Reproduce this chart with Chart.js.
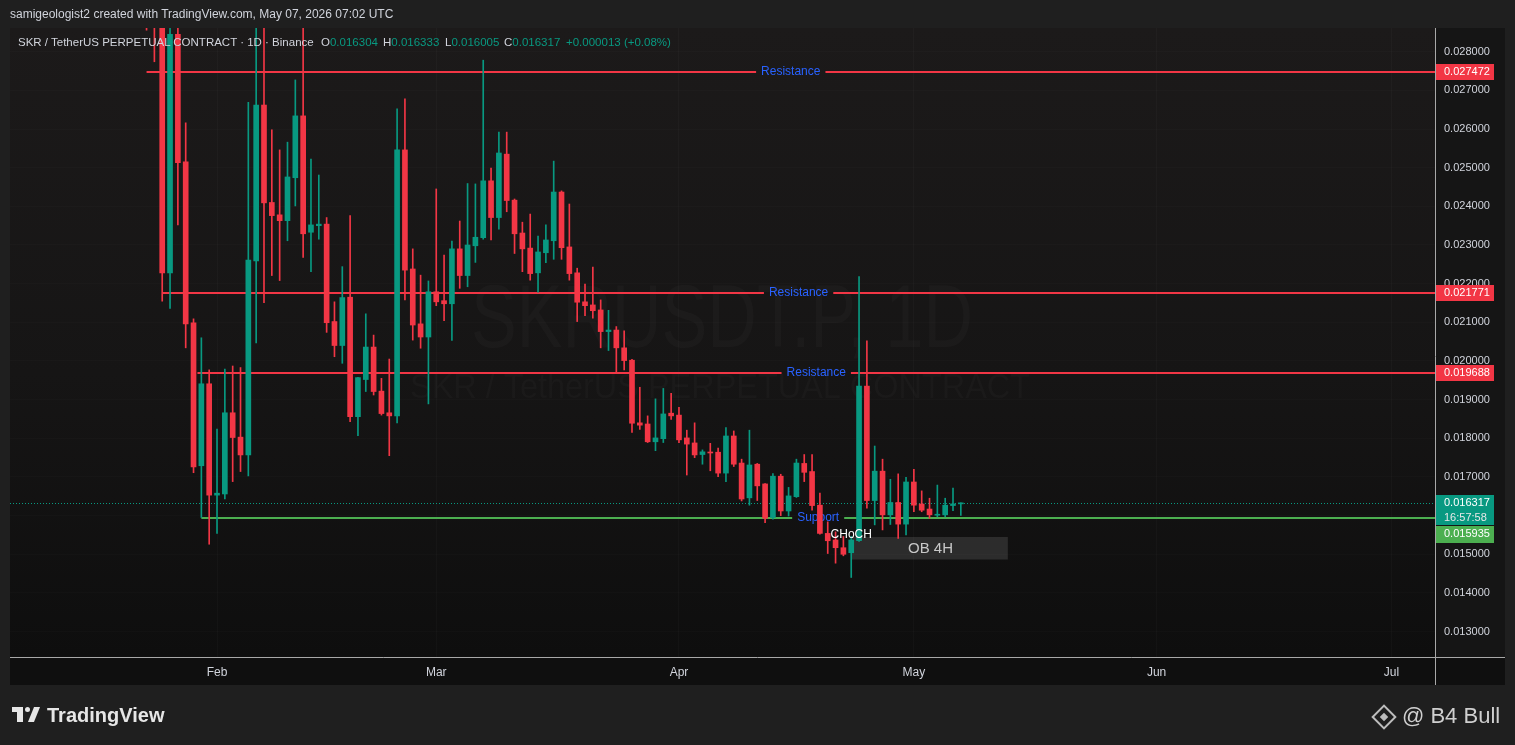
<!DOCTYPE html>
<html lang="es">
<head>
<meta charset="utf-8">
<title>SKR / TetherUS 1D</title>
<script src="https://cdn.jsdelivr.net/npm/chart.js@4.4.1/dist/chart.umd.min.js"></script>
<style>
  body { margin: 0; width: 1515px; height: 745px; overflow: hidden; position: relative; background: #1f1f1f; font-family: "Liberation Sans", Arial, sans-serif; }
  #grafica { position: absolute; left: 0; top: 0; }
  .texto { position: absolute; white-space: nowrap; }
  .gris { color: #d1d4dc; }
  .verde { color: #089981; }
  .pieza { position: absolute; background: #e6e6e6; }
</style>
</head>
<body>
<canvas id="grafica" width="1515" height="745"></canvas>

<div class="texto gris" style="left:10px; top:7px; font-size:12px; line-height:15px;">samigeologist2 created with TradingView.com, May 07, 2026 07:02 UTC</div>

<div class="texto gris" style="left:18px; top:35px; font-size:11.5px; line-height:14px;">SKR / TetherUS PERPETUAL CONTRACT · 1D · Binance</div>
<div class="texto" style="left:321px; top:35px; font-size:11.5px; line-height:14px;"><span class="gris">O</span><span class="verde" id="valorO"></span></div>
<div class="texto" style="left:383px; top:35px; font-size:11.5px; line-height:14px;"><span class="gris">H</span><span class="verde" id="valorH"></span></div>
<div class="texto" style="left:445px; top:35px; font-size:11.5px; line-height:14px;"><span class="gris">L</span><span class="verde" id="valorL"></span></div>
<div class="texto" style="left:504px; top:35px; font-size:11.5px; line-height:14px;"><span class="gris">C</span><span class="verde" id="valorC"></span></div>
<div class="texto verde" id="cambio" style="left:566px; top:35px; font-size:11.5px; line-height:14px;"></div>

<!-- logo de TradingView -->
<div class="pieza" style="left:12px; top:707px; width:11px; height:5px;"></div>
<div class="pieza" style="left:17px; top:707px; width:6px; height:15px;"></div>
<div class="pieza" style="left:25px; top:707px; width:5px; height:5px; border-radius:50%;"></div>
<div class="pieza" style="left:31px; top:707px; width:6px; height:15px; transform:skewX(-22deg);"></div>
<div class="texto" style="left:47px; top:703px; font-size:20px; line-height:24px; font-weight:bold; color:#e6e6e6;">TradingView</div>

<!-- marca de agua del autor -->
<div style="position:absolute; left:1375px; top:708px; width:14px; height:14px; border:2px solid #bdbdbd; transform:rotate(45deg);"></div>
<div style="position:absolute; left:1381px; top:714px; width:6px; height:6px; background:#bdbdbd; transform:rotate(45deg);"></div>
<div class="texto" style="left:1402px; top:703px; font-size:22px; line-height:26px; color:#cfcfcf;">@ B4 Bull</div>

<script>
// Velas diarias SKRUSDT.P (Binance)
const fechas = [
  "2026-01-23","2026-01-24","2026-01-25","2026-01-26","2026-01-27","2026-01-28","2026-01-29","2026-01-30","2026-01-31",
  "2026-02-01","2026-02-02","2026-02-03","2026-02-04","2026-02-05","2026-02-06","2026-02-07","2026-02-08","2026-02-09","2026-02-10",
  "2026-02-11","2026-02-12","2026-02-13","2026-02-14","2026-02-15","2026-02-16","2026-02-17","2026-02-18","2026-02-19","2026-02-20",
  "2026-02-21","2026-02-22","2026-02-23","2026-02-24","2026-02-25","2026-02-26","2026-02-27","2026-02-28",
  "2026-03-01","2026-03-02","2026-03-03","2026-03-04","2026-03-05","2026-03-06","2026-03-07","2026-03-08","2026-03-09","2026-03-10",
  "2026-03-11","2026-03-12","2026-03-13","2026-03-14","2026-03-15","2026-03-16","2026-03-17","2026-03-18","2026-03-19","2026-03-20",
  "2026-03-21","2026-03-22","2026-03-23","2026-03-24","2026-03-25","2026-03-26","2026-03-27","2026-03-28","2026-03-29","2026-03-30","2026-03-31",
  "2026-04-01","2026-04-02","2026-04-03","2026-04-04","2026-04-05","2026-04-06","2026-04-07","2026-04-08","2026-04-09","2026-04-10",
  "2026-04-11","2026-04-12","2026-04-13","2026-04-14","2026-04-15","2026-04-16","2026-04-17","2026-04-18","2026-04-19","2026-04-20",
  "2026-04-21","2026-04-22","2026-04-23","2026-04-24","2026-04-25","2026-04-26","2026-04-27","2026-04-28","2026-04-29","2026-04-30",
  "2026-05-01","2026-05-02","2026-05-03","2026-05-04","2026-05-05","2026-05-06","2026-05-07"
];

const aperturas = [
  0.0335, 0.0301, 0.0294, 0.02228, 0.02845, 0.02515, 0.02099, 0.01729, 0.01941,
  0.01653, 0.01656, 0.01866, 0.01803, 0.01757, 0.02259, 0.02662, 0.02410, 0.02378, 0.02363,
  0.02474, 0.02634, 0.02333, 0.02350, 0.02354, 0.02102, 0.02040, 0.02165, 0.01856, 0.01952,
  0.02036, 0.01922, 0.01866, 0.01858, 0.02546, 0.02238, 0.02096, 0.02062,
  0.02179, 0.02156, 0.02148, 0.02290, 0.02221, 0.02298, 0.02319, 0.02466, 0.02371, 0.02535,
  0.02416, 0.02331, 0.02292, 0.02228, 0.02280, 0.02311, 0.02437, 0.02295, 0.02228, 0.02153,
  0.02145, 0.02132, 0.02076, 0.02080, 0.02034, 0.02002, 0.01840, 0.01837, 0.01791, 0.01799, 0.01865,
  0.01860, 0.01801, 0.01788, 0.01758, 0.01764, 0.01764, 0.01710, 0.01806, 0.01736, 0.01646,
  0.01733, 0.01682, 0.01595, 0.01702, 0.01612, 0.01649, 0.01735, 0.01714, 0.01627, 0.01554,
  0.01537, 0.01517, 0.01504, 0.01535, 0.01935, 0.01639, 0.01715, 0.01602, 0.01634, 0.01578,
  0.01687, 0.01630, 0.01617, 0.01601, 0.01602, 0.01626, 0.016304
];

const maximos = [
  0.0352, 0.0318, 0.0301, 0.0296, 0.0289, 0.02616, 0.02109, 0.02060, 0.01977,
  0.01824, 0.01979, 0.01987, 0.01983, 0.02669, 0.02870, 0.02870, 0.02598, 0.02546, 0.02566,
  0.02727, 0.02870, 0.02522, 0.02481, 0.02371, 0.02153, 0.02244, 0.02376, 0.01958, 0.02122,
  0.02067, 0.01955, 0.02005, 0.02652, 0.02678, 0.02290, 0.02222, 0.02207,
  0.02445, 0.02274, 0.02310, 0.02362, 0.02459, 0.02458, 0.02778, 0.02499, 0.02592, 0.02592,
  0.02419, 0.02359, 0.02380, 0.02323, 0.02352, 0.02517, 0.02440, 0.02406, 0.02240, 0.02199,
  0.02243, 0.02158, 0.02131, 0.02089, 0.02078, 0.02004, 0.01932, 0.01858, 0.01902, 0.01929, 0.01916,
  0.01880, 0.01821, 0.01840, 0.01770, 0.01787, 0.01775, 0.01828, 0.01819, 0.01746, 0.01821,
  0.01735, 0.01683, 0.01709, 0.01707, 0.01673, 0.01746, 0.01758, 0.01758, 0.01658, 0.01584,
  0.01558, 0.01546, 0.01546, 0.02218, 0.02052, 0.01780, 0.01746, 0.01694, 0.01708, 0.01699,
  0.01720, 0.01664, 0.01645, 0.01679, 0.01645, 0.01671, 0.016333
];

const minimos = [
  0.02856, 0.02774, 0.02155, 0.02136, 0.02352, 0.02034, 0.01711, 0.01595, 0.01526,
  0.01554, 0.01643, 0.01688, 0.01714, 0.01703, 0.02047, 0.02151, 0.02221, 0.02208, 0.02311,
  0.02401, 0.02268, 0.02231, 0.02315, 0.02074, 0.02011, 0.01994, 0.01843, 0.01807, 0.01921,
  0.01912, 0.01860, 0.01755, 0.01840, 0.02158, 0.02054, 0.02033, 0.01889,
  0.02143, 0.02104, 0.02053, 0.02188, 0.02192, 0.02255, 0.02315, 0.02313, 0.02341, 0.02386,
  0.02278, 0.02231, 0.02209, 0.02178, 0.02254, 0.02263, 0.02263, 0.02209, 0.02102, 0.02117,
  0.02111, 0.02034, 0.02027, 0.01971, 0.01977, 0.01815, 0.01823, 0.01789, 0.01768, 0.01789, 0.01849,
  0.01789, 0.01705, 0.01750, 0.01733, 0.01716, 0.01701, 0.01688, 0.01727, 0.01638, 0.01627,
  0.01639, 0.01582, 0.01591, 0.01600, 0.01599, 0.01647, 0.01688, 0.01614, 0.01552, 0.01502,
  0.01477, 0.01496, 0.01440, 0.01533, 0.01619, 0.01576, 0.01563, 0.01577, 0.01541, 0.01550,
  0.01610, 0.01610, 0.01593, 0.01597, 0.01597, 0.01613, 0.016005
];

const cierres = [
  0.0301, 0.0294, 0.02228, 0.02845, 0.02513, 0.02096, 0.01726, 0.01941, 0.01653,
  0.01658, 0.01866, 0.01802, 0.01757, 0.02261, 0.02662, 0.02409, 0.02376, 0.02363, 0.02476,
  0.02634, 0.02329, 0.02352, 0.02354, 0.02099, 0.02040, 0.02164, 0.01856, 0.01957, 0.02036,
  0.01921, 0.01864, 0.01858, 0.02546, 0.02235, 0.02093, 0.02062, 0.02179,
  0.02153, 0.02148, 0.02290, 0.02221, 0.02300, 0.02320, 0.02466, 0.02371, 0.02538, 0.02415,
  0.02329, 0.02290, 0.02226, 0.02282, 0.02313, 0.02437, 0.02293, 0.02226, 0.02152, 0.02143,
  0.02130, 0.02076, 0.02080, 0.02034, 0.02001, 0.01839, 0.01834, 0.01791, 0.01801, 0.01863, 0.01858,
  0.01796, 0.01785, 0.01757, 0.01765, 0.01762, 0.01710, 0.01806, 0.01733, 0.01643, 0.01731,
  0.01677, 0.01593, 0.01702, 0.01612, 0.01651, 0.01736, 0.01712, 0.01626, 0.01554, 0.01535,
  0.01517, 0.01500, 0.01537, 0.01935, 0.01639, 0.01715, 0.01602, 0.01634, 0.01578, 0.01687,
  0.01627, 0.01614, 0.01602, 0.01603, 0.01627, 0.016304, 0.016317
];

// Ejes
const rangoFechas = ["2026-01-05T13:26:00Z", "2026-07-06T13:26:00Z"];
const rangoPrecios = [0.012343, 0.028613];
const mesesTicks = ["2026-02-01", "2026-03-01", "2026-04-01", "2026-05-01", "2026-06-01", "2026-07-01"];
const mesesEtiquetas = ["Feb", "Mar", "Apr", "May", "Jun", "Jul"];
const preciosTicks = [0.013, 0.014, 0.015, 0.016, 0.017, 0.018, 0.019, 0.020, 0.021, 0.022, 0.023, 0.024, 0.025, 0.026, 0.027, 0.028];

// Niveles dibujados
const niveles = [0.027472, 0.021771, 0.019688, 0.015935];
const nivelesTexto = ["Resistance", "Resistance", "Resistance", "Support"];
const nivelesInicio = ["2026-01-23", "2026-01-25", "2026-01-29T12:00:00Z", "2026-01-30"];
const nivelesSoporte = [false, false, false, true];

const tiempoRestante = "16:57:58";
const choch = { fecha: "2026-04-23", precio: 0.01550, texto: "CHoCH" };
const bloqueOB = { desde: "2026-04-23", hasta: "2026-05-13", arriba: 0.015447, abajo: 0.014865, texto: "OB 4H" };

const verde = "#089981";
const rojo = "#f23645";
const verdeSoporte = "#4caf50";
const azul = "#2962ff";
const fuente = '"Liberation Sans", Arial, sans-serif';

// Día relativo al 1 de febrero
const base = Date.parse("2026-02-01");
const dia = (f) => (Date.parse(f) - base) / 864e5;

const dias = fechas.map(dia);
const colores = fechas.map((f, i) => (cierres[i] >= aperturas[i] ? verde : rojo));

// Leyenda con la última vela
const ultima = fechas.length - 1;
document.querySelector("#valorO").textContent = aperturas[ultima].toFixed(6);
document.querySelector("#valorH").textContent = maximos[ultima].toFixed(6);
document.querySelector("#valorL").textContent = minimos[ultima].toFixed(6);
document.querySelector("#valorC").textContent = cierres[ultima].toFixed(6);
const diferencia = cierres[ultima] - cierres[ultima - 1];
document.querySelector("#cambio").textContent =
  `+${diferencia.toFixed(6)} (+${((diferencia / cierres[ultima - 1]) * 100).toFixed(2)}%)`;

// Fondo, marca de agua y dibujos
const dibujos = {
  id: "dibujos",
  beforeDraw(chart) {
    const { ctx, chartArea: a } = chart;
    ctx.save();
    ctx.fillStyle = "#1f1f1f";
    ctx.fillRect(0, 0, chart.width, chart.height);

    const degradado = ctx.createLinearGradient(0, a.top, 0, a.bottom);
    degradado.addColorStop(0, "#1c1a1a");
    degradado.addColorStop(0.55, "#161515");
    degradado.addColorStop(1, "#0e0e0e");
    ctx.fillStyle = degradado;
    ctx.fillRect(a.left, a.top, a.right - a.left, a.bottom - a.top);

    ctx.fillStyle = "#151515";
    ctx.fillRect(a.right, a.top, 70, a.bottom - a.top);
    ctx.fillStyle = "#0f0f0f";
    ctx.fillRect(a.left, a.bottom, a.right - a.left + 70, 28);

    // marca de agua
    ctx.fillStyle = "rgba(255,255,255,0.022)";
    ctx.textAlign = "center";
    ctx.textBaseline = "alphabetic";
    const lineas = [
      { t: "SKRUSDT.P, 1D", tam: 89, ancho: 502, x: 722, y: 347 },
      { t: "SKR / TetherUS PERPETUAL CONTRACT", tam: 35, ancho: 620, x: 720, y: 398 },
    ];
    lineas.forEach((l) => {
      ctx.font = `${l.tam}px ${fuente}`;
      const w = ctx.measureText(l.t).width;
      ctx.save();
      ctx.translate(l.x, l.y);
      ctx.scale(l.ancho / w, 1);
      ctx.fillText(l.t, 0, 0);
      ctx.restore();
    });
    ctx.restore();
  },
  beforeDatasetsDraw(chart) {
    const { ctx, chartArea: a, scales } = chart;
    const x = scales.x, y = scales.y;
    ctx.save();

    // línea del precio actual
    const yActual = Math.round(y.getPixelForValue(cierres[ultima])) + 0.5;
    ctx.strokeStyle = verde;
    ctx.lineWidth = 1;
    ctx.setLineDash([1, 2]);
    ctx.beginPath();
    ctx.moveTo(a.left, yActual);
    ctx.lineTo(a.right, yActual);
    ctx.stroke();
    ctx.setLineDash([]);

    // bloque OB 4H
    const x1 = x.getPixelForValue(dia(bloqueOB.desde));
    const x2 = x.getPixelForValue(dia(bloqueOB.hasta));
    const y1 = y.getPixelForValue(bloqueOB.arriba);
    const y2 = y.getPixelForValue(bloqueOB.abajo);
    ctx.fillStyle = "rgba(128,128,128,0.25)";
    ctx.fillRect(x1, y1, x2 - x1, y2 - y1);
    ctx.fillStyle = "#c8c8c8";
    ctx.font = `15px ${fuente}`;
    ctx.textAlign = "center";
    ctx.textBaseline = "middle";
    ctx.fillText(bloqueOB.texto, (x1 + x2) / 2 + 1, (y1 + y2) / 2 + 1);

    // resistencias y soporte
    ctx.font = `12px ${fuente}`;
    niveles.forEach((nivel, i) => {
      const yl = Math.round(y.getPixelForValue(nivel));
      const xi = x.getPixelForValue(dia(nivelesInicio[i]));
      const medio = (xi + a.right) / 2;
      const w = ctx.measureText(nivelesTexto[i]).width;
      ctx.strokeStyle = nivelesSoporte[i] ? verdeSoporte : rojo;
      ctx.lineWidth = 2;
      ctx.beginPath();
      ctx.moveTo(xi, yl);
      ctx.lineTo(medio - w / 2 - 5, yl);
      ctx.moveTo(medio + w / 2 + 5, yl);
      ctx.lineTo(a.right, yl);
      ctx.stroke();
      ctx.fillStyle = azul;
      ctx.fillText(nivelesTexto[i], medio, yl);
    });
    ctx.restore();
  },
  afterDatasetsDraw(chart) {
    const { ctx, scales } = chart;
    ctx.save();
    ctx.fillStyle = "#ffffff";
    ctx.font = `12px ${fuente}`;
    ctx.textAlign = "center";
    ctx.textBaseline = "middle";
    ctx.fillText(choch.texto, scales.x.getPixelForValue(dia(choch.fecha)), scales.y.getPixelForValue(choch.precio));
    ctx.restore();
  },
  afterDraw(chart) {
    const { ctx, chartArea: a, scales } = chart;
    const y = scales.y;
    ctx.save();

    // líneas de las escalas
    ctx.strokeStyle = "#a8a8a8";
    ctx.lineWidth = 1;
    ctx.beginPath();
    ctx.moveTo(a.left, a.bottom + 0.5);
    ctx.lineTo(a.right + 70, a.bottom + 0.5);
    ctx.moveTo(a.right + 0.5, a.top);
    ctx.lineTo(a.right + 0.5, a.bottom + 28);
    ctx.stroke();

    // etiquetas de precio en el eje
    ctx.font = `11px ${fuente}`;
    ctx.textAlign = "left";
    ctx.textBaseline = "middle";
    const etiqueta = (yc, color, texto, arriba, alto) => {
      ctx.fillStyle = color;
      ctx.fillRect(a.right + 1, arriba, 58, alto);
      ctx.fillStyle = "#ffffff";
      ctx.fillText(texto, a.right + 9, yc);
    };
    niveles.forEach((nivel, i) => {
      if (nivelesSoporte[i]) return;
      const yl = Math.round(y.getPixelForValue(nivel));
      etiqueta(yl, rojo, nivel.toFixed(6), yl - 8, 16);
    });

    const yActual = Math.round(y.getPixelForValue(cierres[ultima]));
    etiqueta(yActual, verde, cierres[ultima].toFixed(6), yActual - 8, 30);
    ctx.fillStyle = "#e8e8e8";
    ctx.fillText(tiempoRestante, a.right + 9, yActual + 15);

    niveles.forEach((nivel, i) => {
      if (!nivelesSoporte[i]) return;
      const yl = Math.round(y.getPixelForValue(nivel));
      const arriba = Math.max(yl - 8, yActual + 23);
      etiqueta(arriba + 8, verdeSoporte, nivel.toFixed(6), arriba, 17);
    });
    ctx.restore();
  },
};

Chart.defaults.font.family = fuente;

new Chart(document.getElementById("grafica"), {
  type: "bar",
  data: {
    datasets: [
      {
        label: "mechas",
        data: dias.map((d, i) => ({ x: d, y: [minimos[i], maximos[i]] })),
        backgroundColor: colores,
        barThickness: 1,
        grouped: false,
        order: 2,
      },
      {
        label: "cuerpos",
        data: dias.map((d, i) => ({ x: d, y: [aperturas[i], cierres[i]] })),
        backgroundColor: colores,
        barThickness: 5,
        minBarLength: 1,
        grouped: false,
        order: 1,
      },
    ],
  },
  options: {
    responsive: false,
    animation: false,
    devicePixelRatio: 1,
    events: [],
    layout: { padding: { left: 10, top: 28, right: 10, bottom: 60 } },
    plugins: { legend: { display: false }, tooltip: { enabled: false } },
    scales: {
      x: {
        type: "linear",
        min: dia(rangoFechas[0]),
        max: dia(rangoFechas[1]),
        offset: false,
        grid: { color: "rgba(255,255,255,0.022)", drawTicks: false, offset: false },
        border: { display: false },
        ticks: {
          color: "#d1d4dc",
          font: { size: 12 },
          padding: 8,
          maxRotation: 0,
          autoSkip: false,
          callback: (valor, indice) => mesesEtiquetas[indice],
        },
        afterBuildTicks: (escala) => {
          escala.ticks = mesesTicks.map((f) => ({ value: dia(f) }));
        },
        afterFit: (escala) => {
          escala.height = 28;
        },
      },
      y: {
        type: "linear",
        position: "right",
        min: rangoPrecios[0],
        max: rangoPrecios[1],
        grid: { color: "rgba(255,255,255,0.015)", drawTicks: false },
        border: { display: false },
        ticks: {
          color: "#d1d4dc",
          font: { size: 11 },
          padding: 9,
          autoSkip: false,
          callback: (valor) => valor.toFixed(6),
        },
        afterBuildTicks: (escala) => {
          escala.ticks = preciosTicks.map((v) => ({ value: v }));
        },
        afterFit: (escala) => {
          escala.width = 70;
        },
      },
    },
  },
  plugins: [dibujos],
});
</script>
</body>
</html>
